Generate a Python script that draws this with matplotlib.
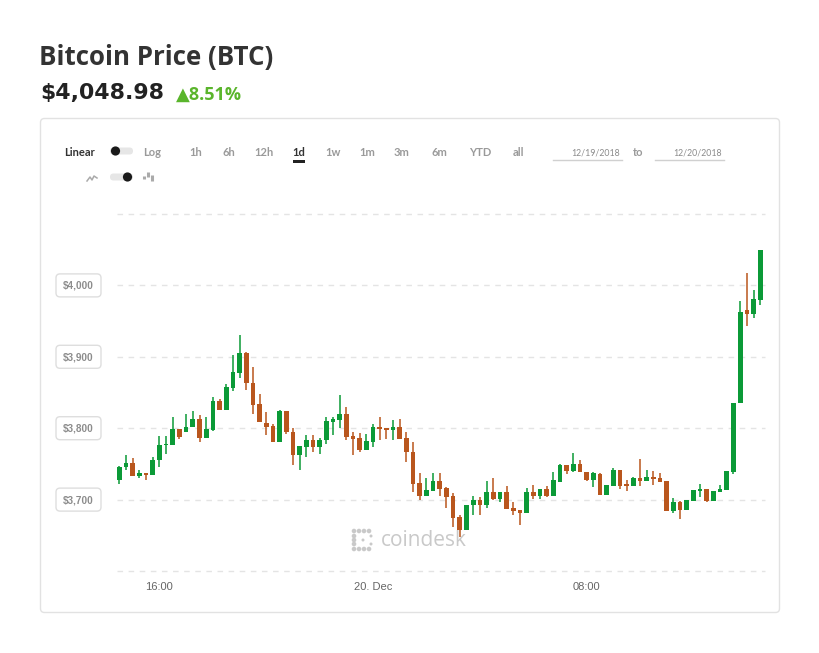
import matplotlib
matplotlib.use('Agg')
import matplotlib.pyplot as plt
from matplotlib.transforms import Affine2D
from matplotlib.patches import FancyBboxPatch, Rectangle, Circle
from matplotlib.lines import Line2D

# ---------------- data (15-minute candles, 19 Dec 14:30 -> 20 Dec 14:30) ----------------
opens = [3727, 3745, 3751, 3733, 3737, 3735, 3755, 3776, 3777, 3799,
         3795, 3801, 3813, 3786, 3798, 3838, 3826, 3857, 3878, 3906,
         3864, 3834, 3807, 3803, 3781, 3824, 3795, 3762, 3774, 3784,
         3774, 3783, 3809, 3812, 3820, 3789, 3786, 3770, 3781, 3802,
         3800, 3797, 3802, 3786, 3767, 3723, 3705, 3712, 3726, 3716,
         3705, 3675, 3658, 3692, 3699, 3692, 3710, 3701, 3710, 3688,
         3685, 3681, 3710, 3705, 3715, 3705, 3725, 3748, 3740, 3750,
         3738, 3728, 3736, 3706, 3719, 3741, 3721, 3719, 3730, 3726,
         3732, 3730, 3726, 3684, 3696, 3685, 3698, 3712, 3715, 3698,
         3711, 3714, 3739, 3835, 3965, 3960, 3980]
highs = [3747, 3762, 3758, 3741, 3737, 3760, 3789, 3789, 3815, 3799,
         3820, 3824, 3819, 3816, 3844, 3841, 3862, 3902, 3930, 3907,
         3886, 3848, 3823, 3806, 3826, 3824, 3800, 3775, 3791, 3791,
         3786, 3816, 3816, 3847, 3829, 3795, 3793, 3792, 3806, 3815,
         3800, 3811, 3813, 3795, 3781, 3737, 3730, 3737, 3737, 3717,
         3709, 3679, 3693, 3705, 3703, 3726, 3730, 3710, 3719, 3696,
         3685, 3716, 3720, 3715, 3719, 3739, 3750, 3748, 3765, 3755,
         3738, 3739, 3737, 3721, 3744, 3741, 3727, 3732, 3757, 3741,
         3740, 3737, 3726, 3702, 3698, 3699, 3713, 3722, 3715, 3712,
         3720, 3740, 3835, 3978, 4017, 3993, 4049]
lows = [3722, 3741, 3733, 3730, 3727, 3735, 3745, 3764, 3776, 3785,
        3795, 3801, 3780, 3786, 3796, 3826, 3826, 3852, 3871, 3854,
        3820, 3808, 3791, 3780, 3781, 3792, 3749, 3742, 3759, 3767,
        3764, 3778, 3791, 3800, 3783, 3763, 3767, 3770, 3774, 3783,
        3785, 3783, 3785, 3753, 3710, 3700, 3705, 3712, 3705, 3688,
        3662, 3647, 3658, 3679, 3679, 3688, 3699, 3696, 3687, 3679,
        3664, 3681, 3701, 3701, 3704, 3705, 3724, 3736, 3739, 3738,
        3726, 3718, 3706, 3706, 3719, 3715, 3712, 3719, 3719, 3726,
        3721, 3725, 3684, 3681, 3673, 3685, 3698, 3704, 3696, 3698,
        3711, 3714, 3736, 3835, 3943, 3955, 3972]
closes = [3745, 3751, 3733, 3737, 3735, 3755, 3776, 3778, 3799, 3787,
          3802, 3813, 3786, 3799, 3838, 3826, 3858, 3879, 3906, 3863,
          3833, 3808, 3802, 3781, 3824, 3794, 3763, 3775, 3784, 3774,
          3783, 3810, 3813, 3820, 3788, 3785, 3770, 3782, 3802, 3799,
          3797, 3802, 3785, 3766, 3722, 3705, 3713, 3726, 3715, 3704,
          3674, 3658, 3692, 3699, 3692, 3710, 3701, 3710, 3687, 3684,
          3681, 3710, 3705, 3715, 3705, 3727, 3748, 3740, 3750, 3738,
          3728, 3737, 3706, 3720, 3741, 3719, 3719, 3730, 3726, 3732,
          3729, 3725, 3684, 3696, 3685, 3699, 3713, 3715, 3698, 3712,
          3715, 3740, 3835, 3963, 3960, 3981, 4049]

start_hour = 14.5      # hours since 19 Dec 00:00
step_hours = 0.25
y_ticks = [3700, 3800, 3900, 4000]
y_tick_labels = ["$3,700", "$3,800", "$3,900", "$4,000"]
x_ticks = [16, 24, 32]
x_tick_labels = ["16:00", "20. Dec", "08:00"]

title = "Bitcoin Price (BTC)"
price_text = "$4,048.98"
change_text = "\u25B28.51%"

# ---------------- figure ----------------
W, H = 820, 653
fig = plt.figure(figsize=(W / 100, H / 100), dpi=100)
fig.patch.set_facecolor('white')
T = Affine2D().scale(1, -1).translate(0, H)   # pixel coords, top-left origin

GREEN = '#0b9a37'
ORANGE = '#b9561d'
HEAD = ['Open Sans', 'DejaVu Sans']

# card
card = FancyBboxPatch((40.5, 118.5), 739, 494, boxstyle='round,pad=0,rounding_size=4',
                      transform=T, fc='white', ec='#e2e2e2', lw=1, zorder=0)
fig.add_artist(card)

# header
fig.text(39, 57.5, title, transform=T, fontsize=18.6, fontweight='bold',
         family=HEAD, color='#333333', va='center', ha='left')
fig.text(40, 93.5, price_text, transform=T, fontsize=15.8, fontweight='bold',
         family=['DejaVu Sans'], color='#222222', va='center', ha='left')
fig.text(176, 95, change_text, transform=T, fontsize=13, fontweight='bold',
         family=HEAD, color='#5ab52c', va='center', ha='left')

# toolbar
tb_font = ['Lato', 'DejaVu Sans']
fig.text(64, 152, "Linear", transform=T, fontsize=8, fontweight='bold', family=tb_font,
         color='#333333', va='center', ha='left')
fig.text(143, 152, "Log", transform=T, fontsize=8, fontweight='bold', family=tb_font,
         color='#9a9a9a', va='center', ha='left')
for lab, xc in [("1h", 196), ("6h", 229), ("12h", 264), ("1d", 299), ("1w", 333),
                ("1m", 367), ("3m", 402), ("6m", 439), ("YTD", 480), ("all", 518)]:
    fig.text(xc, 152, lab, transform=T, fontsize=8, fontweight='bold', family=tb_font,
             color='#333333' if lab == "1d" else '#9a9a9a', va='center', ha='center')
fig.add_artist(Rectangle((293, 159.5), 12, 3, transform=T, fc='#222222', ec='none'))

# toggles
for ty, knob_x in [(151, 115.5), (177, 127.5)]:
    fig.add_artist(FancyBboxPatch((110, ty - 3.5), 23, 7, boxstyle='round,pad=0,rounding_size=3.5',
                                  transform=T, fc='#e6e6e6', ec='none'))
    fig.add_artist(Circle((knob_x, ty), 4.6, transform=T, fc='#1a1a1a', ec='none'))
# line icon
fig.add_artist(Line2D([87, 90, 92, 94, 97], [181, 177, 180, 176, 178], transform=T,
                      color='#aaaaaa', lw=1.1))
# candle icon
for bx, y0, y1 in [(144, 176, 179), (148, 172, 177), (152, 175, 181)]:
    fig.add_artist(Line2D([bx, bx], [y0, y1], transform=T, color='#aaaaaa', lw=2.2,
                          solid_capstyle='butt'))

# dates
fig.text(620, 153, "12/19/2018", transform=T, fontsize=6.3, family=['Lato', 'DejaVu Sans'],
         color='#8a8a8a', va='center', ha='right')
fig.text(638, 152, "to", transform=T, fontsize=8, fontweight='bold', family=tb_font,
         color='#9a9a9a', va='center', ha='center')
fig.text(722, 153, "12/20/2018", transform=T, fontsize=6.3, family=['Lato', 'DejaVu Sans'],
         color='#8a8a8a', va='center', ha='right')
fig.add_artist(Line2D([553, 622], [160, 160], transform=T, color='#d0d0d0', lw=1))
fig.add_artist(Line2D([655, 724], [160, 160], transform=T, color='#d0d0d0', lw=1))

# ---------------- chart ----------------
ax_left, ax_right, ax_top, ax_bottom = 117, 765, 214, 571
ax = fig.add_axes([ax_left / W, 1 - ax_bottom / H, (ax_right - ax_left) / W,
                   (ax_bottom - ax_top) / H])
ax.set_facecolor('none')
ax.set_xlim(14.41, 38.68)
ax.set_ylim(3600, 4100)
for s in ax.spines.values():
    s.set_visible(False)

for gy in [3600] + y_ticks + [4100]:
    ax.axhline(gy, color='#e4e4e4', lw=1, ls=(0, (4, 4)), zorder=0, clip_on=False)

xs = [start_hour + i * step_hours for i in range(len(opens))]
cols = [GREEN if c >= o else ORANGE for o, c in zip(opens, closes)]
ax.vlines(xs, lows, highs, colors=cols, lw=1.1, zorder=2)
bottoms = [min(o, c) for o, c in zip(opens, closes)]
heights = [max(abs(c - o), 2.2) for o, c in zip(opens, closes)]
ax.bar(xs, heights, bottom=bottoms, width=0.175, color=cols, zorder=3, lw=0)

ax.set_yticks([])
ax.set_xticks(x_ticks)
ax.set_xticklabels(x_tick_labels, family=['Liberation Sans', 'DejaVu Sans'], fontsize=8,
                   color='#666666')
ax.tick_params(axis='x', length=0, pad=8)

# y label boxes
def price_to_px(v):
    return ax_bottom - (v - 3600) * (ax_bottom - ax_top) / 500.0

for v, lab in zip(y_ticks, y_tick_labels):
    py = price_to_px(v)
    fig.add_artist(FancyBboxPatch((56, py - 11.5), 45, 23, boxstyle='round,pad=0,rounding_size=4',
                                  transform=T, fc='white', ec='#dedede', lw=1))
    fig.text(78.5, py + 0.5, lab, transform=T, fontsize=7.2, fontweight='bold',
             family=['Liberation Sans', 'DejaVu Sans'], color='#8c8c8c', va='center', ha='center')

# watermark
wm = '#c9c9c9'
for cx in [354, 359, 364, 369]:
    for cy in [531, 549]:
        fig.add_artist(Circle((cx, cy), 2.3, transform=T, fc=wm, ec='none'))
for cy in [536, 540, 544]:
    fig.add_artist(Circle((354, cy), 2.3, transform=T, fc=wm, ec='none'))
for cx, cy in [(363, 540), (371, 536), (371, 544)]:
    fig.add_artist(Circle((cx, cy), 1.5, transform=T, fc=wm, ec='none'))
fig.text(381, 541, "coindesk", transform=T, fontsize=15, family=['Open Sans', 'DejaVu Sans'],
         color=wm, va='center', ha='left')

fig.savefig('out.png', dpi=100, facecolor='white')
